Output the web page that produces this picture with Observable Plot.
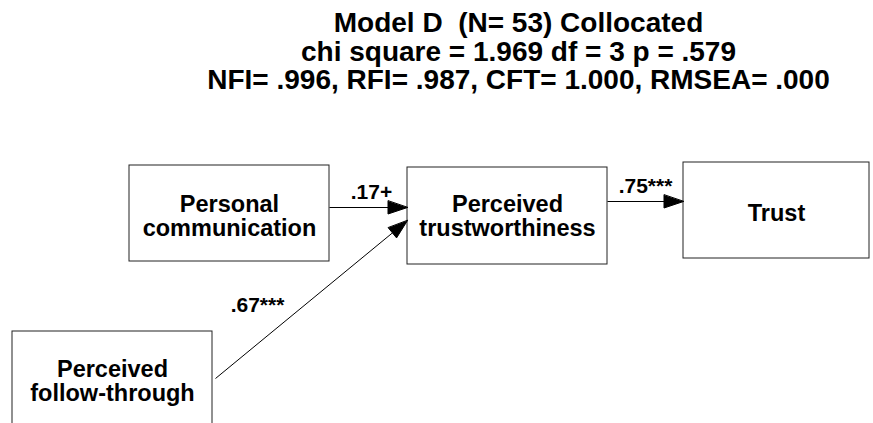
<!DOCTYPE html>
<html>
<head>
<meta charset="utf-8">
<script src="https://cdn.jsdelivr.net/npm/d3@7"></script>
<script src="https://cdn.jsdelivr.net/npm/@observablehq/plot@0.6"></script>
<style>
  html, body { margin: 0; padding: 0; background: #fff; }
  #chart svg { display: block; }
</style>
</head>
<body>
<div id="chart"></div>
<script>
// ---- data ----
const titleLines = [
  "Model D  (N= 53) Collocated",
  "chi square = 1.969 df = 3 p = .579",
  "NFI= .996, RFI= .987, CFT= 1.000, RMSEA= .000"
];
const variables = ["Personal communication", "Perceived trustworthiness", "Trust", "Perceived follow-through"];
const variableLabels = ["Personal\ncommunication", "Perceived\ntrustworthiness", "Trust", "Perceived\nfollow-through"];
const pathFrom = ["Personal communication", "Perceived trustworthiness", "Perceived follow-through"];
const pathTo = ["Perceived trustworthiness", "Trust", "Perceived trustworthiness"];
const coefficients = [".17+", ".75***", ".67***"];

// ---- layout (positions in pixel-space data units) ----
const boxLayout = {
  "Personal communication": {x1: 129, x2: 329, y1: 165, y2: 261},
  "Perceived trustworthiness": {x1: 407, x2: 607, y1: 167, y2: 264},
  "Trust": {x1: 683, x2: 869, y1: 162, y2: 258},
  "Perceived follow-through": {x1: 12, x2: 212, y1: 331, y2: 440}
};
const labelY = {"Personal communication": 216, "Perceived trustworthiness": 216, "Trust": 213, "Perceived follow-through": 381};
const pathLayout = [
  {x1: 329, y1: 207, x2: 407, y2: 207, lx: 371, ly: 191.5},
  {x1: 607, y1: 201, x2: 683, y2: 201, lx: 645, ly: 185.5},
  {x1: 215, y1: 378, x2: 407, y2: 220, lx: 257, ly: 305}
];

const W = 873, H = 423;
const boxes = variables.map((v, i) => ({name: v, label: variableLabels[i], ...boxLayout[v], ly: labelY[v]}));
const paths = pathFrom.map((f, i) => ({from: f, to: pathTo[i], coef: coefficients[i], ...pathLayout[i]}));

// arrowhead triangles derived from path endpoints
const headLen = 19.5, headHalf = 6.5;
const heads = [];
paths.forEach((p, i) => {
  const dx = p.x2 - p.x1, dy = p.y2 - p.y1, L = Math.hypot(dx, dy);
  const ux = dx / L, uy = dy / L;
  const bx = p.x2 - ux * headLen, by = p.y2 - uy * headLen;
  heads.push({k: i, x: p.x2, y: p.y2});
  heads.push({k: i, x: bx - uy * headHalf, y: by + ux * headHalf});
  heads.push({k: i, x: bx + uy * headHalf, y: by - ux * headHalf});
});
const lines = paths.map(p => {
  const dx = p.x2 - p.x1, dy = p.y2 - p.y1, L = Math.hypot(dx, dy);
  return {...p, ex: p.x2 - dx / L * (headLen - 2), ey: p.y2 - dy / L * (headLen - 2)};
});

const titleData = titleLines.map((t, i) => ({t, y: 23 + i * 28.5}));
const font = "Arial, 'Liberation Sans', Helvetica, sans-serif";

const chart = Plot.plot({
  width: W, height: H,
  margin: 0,
  x: {domain: [0, W], range: [0, W], axis: null},
  y: {domain: [0, H], range: [0, H], axis: null},
  style: {fontFamily: font, background: "#fff"},
  marks: [
    Plot.text(titleData, {x: 518, y: "y", text: "t", fontSize: 28, fontWeight: "bold", fill: "#000", textAnchor: "middle"}),
    Plot.rect(boxes, {x1: "x1", x2: "x2", y1: "y1", y2: "y2", fill: "#fff", stroke: "#222", strokeWidth: 1}),
    Plot.text(boxes, {x: d => (d.x1 + d.x2) / 2, y: "ly", text: "label", fontSize: 23.5, fontWeight: "bold", fill: "#000", lineHeight: 1}),
    Plot.link(lines, {x1: "x1", y1: "y1", x2: "ex", y2: "ey", stroke: "#000", strokeWidth: 1}),
    Plot.line(heads, {x: "x", y: "y", z: "k", fill: "#000", stroke: "#000", strokeWidth: 1, curve: "linear-closed"}),
    Plot.text(paths, {x: "lx", y: "ly", text: "coef", fontSize: 21, fontWeight: "bold", fill: "#000"})
  ]
});
document.getElementById("chart").appendChild(chart);
</script>
</body>
</html>
